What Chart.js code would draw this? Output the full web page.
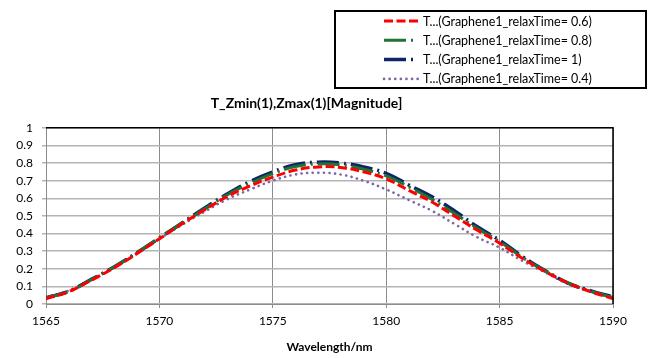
<!DOCTYPE html>
<html>
<head>
<meta charset="utf-8">
<script src="https://cdn.jsdelivr.net/npm/chart.js@4.4.1/dist/chart.umd.min.js"></script>
<style>
  html, body { margin: 0; padding: 0; background: #fff; }
  #tChart { display: block; }
</style>
</head>
<body>
<canvas id="tChart" width="648" height="358"></canvas>
<script>
// wavelength samples (nm)
var wavelengths = [1565, 1566, 1567, 1568, 1569, 1570, 1571, 1572, 1573, 1574, 1575, 1576, 1577,
                   1578, 1579, 1580, 1581, 1582, 1583, 1584, 1585, 1586, 1587, 1588, 1589, 1590];

// transmission magnitude for each relaxation time
var relax06 = [0.030, 0.070, 0.135, 0.205, 0.285, 0.370, 0.455, 0.535, 0.610, 0.670, 0.720, 0.760, 0.778,
               0.775, 0.750, 0.710, 0.645, 0.580, 0.500, 0.420, 0.345, 0.260, 0.185, 0.120, 0.070, 0.030];
var relax08 = [0.035, 0.070, 0.138, 0.210, 0.290, 0.375, 0.460, 0.540, 0.620, 0.685, 0.740, 0.780, 0.795,
               0.790, 0.765, 0.727, 0.665, 0.595, 0.515, 0.430, 0.355, 0.265, 0.188, 0.120, 0.073, 0.037];
var relax1  = [0.035, 0.072, 0.140, 0.210, 0.290, 0.375, 0.460, 0.545, 0.625, 0.695, 0.750, 0.790, 0.805,
               0.800, 0.778, 0.742, 0.675, 0.610, 0.530, 0.440, 0.362, 0.270, 0.190, 0.120, 0.075, 0.040];
var relax04 = [0.040, 0.075, 0.140, 0.210, 0.290, 0.370, 0.450, 0.525, 0.595, 0.650, 0.700, 0.735, 0.745,
               0.735, 0.700, 0.650, 0.590, 0.530, 0.455, 0.380, 0.320, 0.245, 0.180, 0.115, 0.075, 0.040];

var seriesNames = ['T...(Graphene1_relaxTime= 0.6)', 'T...(Graphene1_relaxTime= 0.8)',
                   'T...(Graphene1_relaxTime= 1)', 'T...(Graphene1_relaxTime= 0.4)'];
var xTicks = [1565, 1570, 1575, 1580, 1585, 1590];
var yTicks = [0, 0.1, 0.2, 0.3, 0.4, 0.5, 0.6, 0.7, 0.8, 0.9, 1];

var FONT = 'Lato, "Liberation Sans", sans-serif';

function toPoints(values) {
    return wavelengths.map(function(w, i) { return {x: w, y: values[i]}; });
}

// plain number labels, no grouping separators or padded decimals
function plainLabel(value) {
    return String(value);
}

// plot frame (black top/right edge) and the boxed legend in the top-right corner
var frameAndLegend = {
    id: 'frameAndLegend',
    afterDatasetsDraw: function(chart) {
        var ctx = chart.ctx, a = chart.chartArea;
        ctx.save();
        ctx.strokeStyle = '#000';
        ctx.lineWidth = 1.5;
        ctx.beginPath();
        ctx.moveTo(a.left, a.top);
        ctx.lineTo(a.right, a.top);
        ctx.lineTo(a.right, a.bottom);
        ctx.stroke();
        ctx.restore();
    },
    afterDraw: function(chart) {
        var ctx = chart.ctx;
        var box = {left: 335, top: 11, right: 646, bottom: 88};
        ctx.save();
        ctx.strokeStyle = '#000';
        ctx.lineWidth = 2;
        ctx.strokeRect(box.left, box.top, box.right - box.left, box.bottom - box.top);

        ctx.font = '12.5px ' + FONT;
        ctx.fillStyle = '#000';
        ctx.textBaseline = 'middle';
        chart.data.datasets.forEach(function(ds, i) {
            var y = 21 + i * 19.3;
            ctx.save();
            ctx.strokeStyle = ds.borderColor;
            ctx.lineWidth = ds.borderWidth;
            ctx.lineCap = ds.borderCapStyle || 'butt';
            ctx.setLineDash(ds.borderDash || []);
            ctx.beginPath();
            ctx.moveTo(384, y);
            ctx.lineTo(418, y);
            ctx.stroke();
            ctx.restore();
            ctx.fillText(ds.label, 423, y + 0.5);
        });
        ctx.restore();
    }
};

var ctx = document.getElementById('tChart').getContext('2d');
var tChart = new Chart(ctx, {
    type: 'line',
    data: {
        datasets: [{
            label: seriesNames[0],
            data: toPoints(relax06),
            borderColor: '#ff0000',
            borderWidth: 3,
            borderDash: [9, 3.5]
        }, {
            label: seriesNames[1],
            data: toPoints(relax08),
            borderColor: '#1d7436',
            borderWidth: 3,
            borderDash: [22, 5, 2, 5]
        }, {
            label: seriesNames[2],
            data: toPoints(relax1),
            borderColor: '#0e2466',
            borderWidth: 3.5,
            borderDash: [22, 5, 2, 5]
        }, {
            label: seriesNames[3],
            data: toPoints(relax04),
            borderColor: '#8064a2',
            borderWidth: 2.6,
            borderCapStyle: 'round',
            borderDash: [0.1, 5.5]
        }]
    },
    options: {
        responsive: false,
        animation: false,
        elements: {
            point: { radius: 0 },
            line: { tension: 0.4, fill: false }
        },
        layout: {
            padding: { top: 88, left: 0, right: 35, bottom: 0 }
        },
        plugins: {
            legend: { display: false },
            tooltip: { enabled: false },
            title: {
                display: true,
                text: 'T_Zmin(1),Zmax(1)[Magnitude]',
                color: '#000',
                font: { family: FONT, size: 14, weight: 'bold' },
                padding: { top: 7.5, bottom: 15.5 }
            }
        },
        scales: {
            x: {
                type: 'linear',
                min: 1565,
                max: 1590,
                afterBuildTicks: function(scale) {
                    scale.ticks = xTicks.map(function(v) { return {value: v}; });
                },
                afterFit: function(scale) { scale.height = 54; },
                ticks: {
                    color: '#000',
                    font: { family: FONT, size: 12 },
                    padding: 6,
                    maxRotation: 0,
                    callback: plainLabel
                },
                grid: { color: '#8c8c8c', lineWidth: 1, tickLength: 4 },
                border: { color: '#8c8c8c', width: 1 },
                title: {
                    display: true,
                    text: 'Wavelength/nm',
                    color: '#000',
                    font: { family: FONT, size: 12, weight: 'bold' },
                    padding: { top: 0, bottom: 4 }
                }
            },
            y: {
                min: 0,
                max: 1,
                afterBuildTicks: function(scale) {
                    scale.ticks = yTicks.map(function(v) { return {value: v}; });
                },
                afterFit: function(scale) { scale.width = 46; },
                ticks: {
                    color: '#000',
                    font: { family: FONT, size: 12 },
                    padding: 9,
                    callback: plainLabel
                },
                grid: { color: '#b4b4b4', lineWidth: 1.5, tickLength: 4 },
                border: { color: '#8c8c8c', width: 1 }
            }
        }
    },
    plugins: [frameAndLegend]
});
</script>
</body>
</html>
